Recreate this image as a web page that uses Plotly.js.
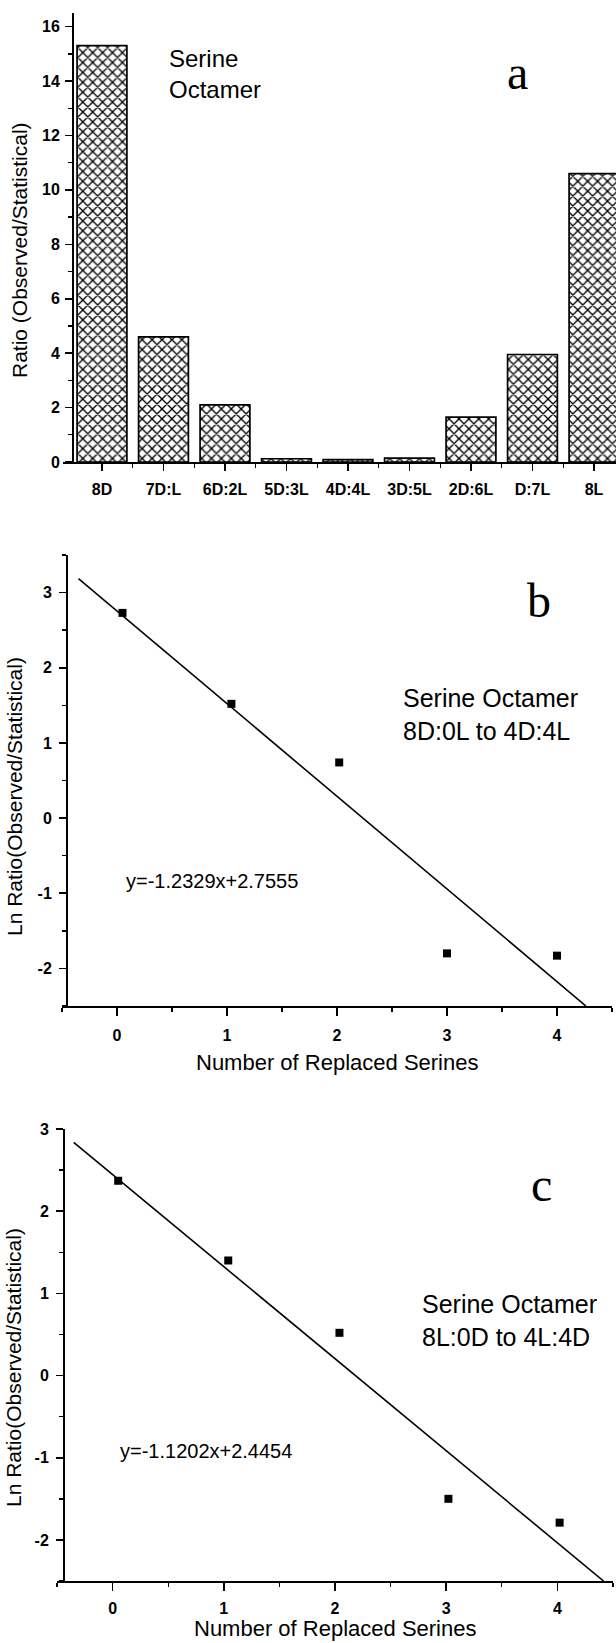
<!DOCTYPE html>
<html>
<head>
<meta charset="utf-8">
<script src="https://cdn.plot.ly/plotly-3.0.1.min.js"></script>
<style>
  html, body { margin: 0; padding: 0; background: #fff; }
  #chart { width: 616px; height: 1643px; }
</style>
</head>
<body>
<div id="chart"></div>
<script>
// ---------- data ----------
const categories = ['8D', '7D:L', '6D:2L', '5D:3L', '4D:4L', '3D:5L', '2D:6L', 'D:7L', '8L'];
const ratios = [15.3, 4.6, 2.1, 0.12, 0.09, 0.14, 1.65, 3.95, 10.6];

const replacedB = [0.05, 1.04, 2.02, 3.0, 4.0];
const lnRatioB = [2.73, 1.52, 0.74, -1.80, -1.83];
const slopeB = -1.2329, interceptB = 2.7555;
const fitXB = [-0.35, 4.263];

const replacedC = [0.05, 1.04, 2.04, 3.02, 4.02];
const lnRatioC = [2.37, 1.40, 0.52, -1.50, -1.79];
const slopeC = -1.1202, interceptC = 2.4454;
const fitXC = [-0.35, 4.415];

const yTicksA = [0, 2, 4, 6, 8, 10, 12, 14, 16];
const yTicksBC = [-2, -1, 0, 1, 2, 3];
const xTicksBC = [0, 1, 2, 3, 4];

// ---------- geometry helpers (pixel -> paper) ----------
const W = 616, H = 1643;
const px = v => v / W;
const py = v => 1 - v / H;

const SANS = 'Liberation Sans, Arial, sans-serif';
const SERIF = 'Liberation Serif, Times New Roman, serif';
const tickFont = {family: SANS, size: 16, color: '#000', weight: 'bold'};
const plainLabel = v => String(v);   // hyphen-minus like the original, not U+2212

const axisBase = {
  showgrid: false, zeroline: false, showline: true,
  linecolor: '#000', linewidth: 1.8,
  ticks: 'outside', ticklen: 7, tickwidth: 1.6, tickcolor: '#000',
  tickfont: tickFont, fixedrange: true
};
function minorCfg(extra) {
  return Object.assign({ticks: 'outside', ticklen: 4, tickwidth: 1.4, tickcolor: '#000', showgrid: false}, extra);
}

const fitYB = fitXB.map(x => slopeB * x + interceptB);
const fitYC = fitXC.map(x => slopeC * x + interceptC);

const traces = [
  {
    type: 'bar', x: categories.map((c, i) => i), y: ratios,
    xaxis: 'x', yaxis: 'y', width: 0.81,
    marker: {
      color: '#fff',
      line: {color: '#000', width: 1.7},
      pattern: {shape: 'x', size: 7, solidity: 0.35, fgcolor: '#000', bgcolor: '#fff', fillmode: 'replace'}
    },
    hoverinfo: 'skip', showlegend: false
  },
  {
    type: 'scatter', mode: 'lines', x: fitXB, y: fitYB, xaxis: 'x2', yaxis: 'y2',
    line: {color: '#000', width: 1.6}, showlegend: false, hoverinfo: 'skip'
  },
  {
    type: 'scatter', mode: 'markers', x: replacedB, y: lnRatioB, xaxis: 'x2', yaxis: 'y2',
    marker: {symbol: 'square', size: 8, color: '#000'}, showlegend: false
  },
  {
    type: 'scatter', mode: 'lines', x: fitXC, y: fitYC, xaxis: 'x3', yaxis: 'y3',
    line: {color: '#000', width: 1.6}, showlegend: false, hoverinfo: 'skip'
  },
  {
    type: 'scatter', mode: 'markers', x: replacedC, y: lnRatioC, xaxis: 'x3', yaxis: 'y3',
    marker: {symbol: 'square', size: 8, color: '#000'}, showlegend: false
  }
];

const layout = {
  width: W, height: H,
  margin: {l: 0, r: 0, t: 0, b: 0},
  paper_bgcolor: '#fff', plot_bgcolor: 'rgba(0,0,0,0)',
  showlegend: false,
  font: {family: SANS, color: '#000'},
  // panel a
  xaxis: Object.assign({}, axisBase, {
    domain: [px(63), px(616)], anchor: 'y',
    range: [-0.634, 8.358],
    tickmode: 'array', tickvals: categories.map((c, i) => i), ticktext: categories,
    minor: minorCfg({tickmode: 'array', tickvals: categories.map((c, i) => i + 0.5)}),
    ticklabelstandoff: 5
  }),
  yaxis: Object.assign({}, axisBase, {
    domain: [py(462), py(13)], anchor: 'free', position: px(72),
    range: [0, 16.5], tickmode: 'array', tickvals: yTicksA, ticktext: yTicksA.map(plainLabel),
    minor: minorCfg({dtick: 1, tick0: 0}),
    ticklabelstandoff: 2
  }),
  // panel b
  xaxis2: Object.assign({}, axisBase, {
    domain: [px(62), px(612)], anchor: 'y2',
    range: [-0.5, 4.5], tickmode: 'array', tickvals: xTicksBC, ticktext: xTicksBC.map(plainLabel), ticklen: 8,
    minor: minorCfg({dtick: 0.5, tick0: 0}),
    ticklabelstandoff: 6
  }),
  yaxis2: Object.assign({}, axisBase, {
    domain: [py(1006), py(555)], anchor: 'free', position: px(66),
    range: [-2.5, 3.5], tickmode: 'array', tickvals: yTicksBC, ticktext: yTicksBC.map(plainLabel),
    minor: minorCfg({dtick: 0.5, tick0: 0}),
    ticklabelstandoff: 4
  }),
  // panel c
  xaxis3: Object.assign({}, axisBase, {
    domain: [px(57), px(613)], anchor: 'y3',
    range: [-0.5, 4.5], tickmode: 'array', tickvals: xTicksBC, ticktext: xTicksBC.map(plainLabel), ticklen: 8,
    minor: minorCfg({dtick: 0.5, tick0: 0}),
    ticklabelstandoff: 4
  }),
  yaxis3: Object.assign({}, axisBase, {
    domain: [py(1581), py(1129)], anchor: 'free', position: px(63),
    range: [-2.5, 3], tickmode: 'array', tickvals: yTicksBC, ticktext: yTicksBC.map(plainLabel),
    minor: minorCfg({dtick: 0.5, tick0: 0}),
    ticklabelstandoff: 4
  }),
  annotations: [
    // panel a
    {xref: 'x', yref: 'y', x: 1.06, y: 14.25, xanchor: 'left', yanchor: 'middle', align: 'left',
     text: 'Serine<br>Octamer', showarrow: false, font: {family: SANS, size: 24, color: '#000'}},
    {xref: 'x', yref: 'y', x: 6.76, y: 14.3, xanchor: 'center', yanchor: 'middle',
     text: 'a', showarrow: false, font: {family: SERIF, size: 48, color: '#000'}},
    {xref: 'paper', yref: 'paper', x: px(19), y: py(250), xanchor: 'center', yanchor: 'middle',
     textangle: -90, text: 'Ratio (Observed/Statistical)', showarrow: false,
     font: {family: SANS, size: 21, color: '#000'}},
    // panel b
    {xref: 'x2', yref: 'y2', x: 2.58, y: 1.375, xanchor: 'left', yanchor: 'middle', align: 'left',
     text: 'Serine Octamer<br>8D:0L to 4D:4L', showarrow: false, font: {family: SANS, size: 25, color: '#000'}},
    {xref: 'x2', yref: 'y2', x: 0.06, y: -0.84, xanchor: 'left', yanchor: 'middle',
     text: 'y=-1.2329x+2.7555', showarrow: false, font: {family: SANS, size: 20, color: '#000'}},
    {xref: 'x2', yref: 'y2', x: 3.84, y: 2.9, xanchor: 'center', yanchor: 'middle',
     text: 'b', showarrow: false, font: {family: SERIF, size: 48, color: '#000'}},
    {xref: 'paper', yref: 'paper', x: px(14), y: py(797), xanchor: 'center', yanchor: 'middle',
     textangle: -90, text: 'Ln Ratio(Observed/Statistical)', showarrow: false,
     font: {family: SANS, size: 21, color: '#000'}},
    {xref: 'paper', yref: 'paper', x: px(337), y: py(1062), xanchor: 'center', yanchor: 'middle',
     text: 'Number of Replaced Serines', showarrow: false, font: {family: SANS, size: 22, color: '#000'}},
    // panel c
    {xref: 'x3', yref: 'y3', x: 2.76, y: 0.675, xanchor: 'left', yanchor: 'middle', align: 'left',
     text: 'Serine Octamer<br>8L:0D to 4L:4D', showarrow: false, font: {family: SANS, size: 25, color: '#000'}},
    {xref: 'x3', yref: 'y3', x: 0.05, y: -0.92, xanchor: 'left', yanchor: 'middle',
     text: 'y=-1.1202x+2.4454', showarrow: false, font: {family: SANS, size: 20, color: '#000'}},
    {xref: 'x3', yref: 'y3', x: 3.86, y: 2.33, xanchor: 'center', yanchor: 'middle',
     text: 'c', showarrow: false, font: {family: SERIF, size: 48, color: '#000'}},
    {xref: 'paper', yref: 'paper', x: px(13), y: py(1368), xanchor: 'center', yanchor: 'middle',
     textangle: -90, text: 'Ln Ratio(Observed/Statistical)', showarrow: false,
     font: {family: SANS, size: 21, color: '#000'}},
    {xref: 'paper', yref: 'paper', x: px(335), y: py(1628), xanchor: 'center', yanchor: 'middle',
     text: 'Number of Replaced Serines', showarrow: false, font: {family: SANS, size: 22, color: '#000'}}
  ]
};

Plotly.newPlot('chart', traces, layout, {staticPlot: true, displayModeBar: false});
</script>
</body>
</html>
